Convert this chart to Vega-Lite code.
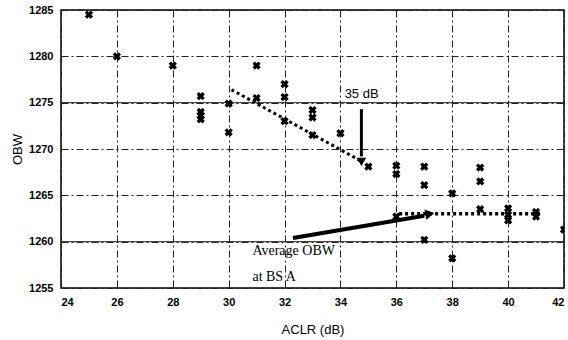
{
  "$schema": "https://vega.github.io/schema/vega-lite/v6.json",
  "autosize": "none",
  "width": 503,
  "height": 278,
  "padding": {"left": 61, "top": 10, "right": 4, "bottom": 52},
  "background": "white",
  "config": {
    "view": {"stroke": "black", "strokeWidth": 1.5},
    "axis": {
      "labelFont": "Liberation Sans",
      "labelFontSize": 11,
      "labelFontWeight": "bold",
      "labelColor": "black",
      "titleFont": "Liberation Sans",
      "titleFontSize": 13,
      "titleFontWeight": "normal",
      "titleColor": "black",
      "domain": false,
      "ticks": false,
      "grid": true,
      "gridColor": "#222",
      "gridDash": [7, 3, 2, 3],
      "gridWidth": 1,
      "gridOpacity": 1
    }
  },
  "datasets": {
    "pts": [
      {"aclr": 25, "obw": 1284.5},
      {"aclr": 26, "obw": 1280},
      {"aclr": 28, "obw": 1279},
      {"aclr": 29, "obw": 1275.7},
      {"aclr": 29, "obw": 1274},
      {"aclr": 29, "obw": 1273.6},
      {"aclr": 29, "obw": 1273.2},
      {"aclr": 30, "obw": 1274.9},
      {"aclr": 30, "obw": 1271.8},
      {"aclr": 31, "obw": 1279},
      {"aclr": 31, "obw": 1275.5},
      {"aclr": 32, "obw": 1277},
      {"aclr": 32, "obw": 1275.6},
      {"aclr": 32, "obw": 1273},
      {"aclr": 33, "obw": 1274.2},
      {"aclr": 33, "obw": 1273.4},
      {"aclr": 33, "obw": 1271.5},
      {"aclr": 34, "obw": 1271.7},
      {"aclr": 35, "obw": 1268.1},
      {"aclr": 36, "obw": 1268.2},
      {"aclr": 36, "obw": 1267.3},
      {"aclr": 36, "obw": 1262.7},
      {"aclr": 37, "obw": 1268.1},
      {"aclr": 37, "obw": 1266.1},
      {"aclr": 37, "obw": 1260.2},
      {"aclr": 38, "obw": 1265.2},
      {"aclr": 38, "obw": 1258.2},
      {"aclr": 39, "obw": 1268},
      {"aclr": 39, "obw": 1266.5},
      {"aclr": 39, "obw": 1263.5},
      {"aclr": 40, "obw": 1263.6},
      {"aclr": 40, "obw": 1262.9},
      {"aclr": 40, "obw": 1262.3},
      {"aclr": 41, "obw": 1263.2},
      {"aclr": 41, "obw": 1262.7},
      {"aclr": 42, "obw": 1261.3}
    ],
    "solidGrid": [
      {"obw": 1275},
      {"obw": 1260}
    ],
    "dotA": [
      {"aclr": 30.1, "obw": 1276.4},
      {"aclr": 34.8, "obw": 1268.6}
    ],
    "dotB": [
      {"aclr": 36.1, "obw": 1263.0},
      {"aclr": 41.2, "obw": 1263.0}
    ],
    "arrowV": [
      {"aclr": 34.75, "obw": 1274.3},
      {"aclr": 34.75, "obw": 1269.2}
    ],
    "arrowS": [
      {"aclr": 32.3, "obw": 1260.4},
      {"aclr": 37.0, "obw": 1262.8}
    ],
    "headV": [{"aclr": 34.75, "obw": 1268.6}],
    "headS": [{"aclr": 37.2, "obw": 1263.0}],
    "labels35": [{"aclr": 34.15, "obw": 1275.9, "txt": "35 dB"}],
    "labelsAvg": [
      {"aclr": 30.85, "obw": 1259.0, "txt": "Average OBW"},
      {"aclr": 30.85, "obw": 1256.2, "txt": "at BS A"}
    ]
  },
  "layer": [
    {
      "data": {"name": "solidGrid"},
      "mark": {"type": "rule", "color": "#222", "strokeWidth": 1},
      "encoding": {
        "y": {"field": "obw", "type": "quantitative", "scale": {"domain": [1255, 1285]}}
      }
    },
    {
      "data": {"name": "pts"},
      "mark": {"type": "point", "shape": "cross", "angle": 45, "filled": true, "color": "black", "size": 70, "opacity": 1, "clip": true},
      "encoding": {
        "x": {"field": "aclr", "type": "quantitative", "scale": {"domain": [24, 42], "nice": false},
              "axis": {"title": "ACLR (dB)", "values": [24, 26, 28, 30, 32, 34, 36, 38, 40, 42], "labelPadding": 8, "titlePadding": 16}},
        "y": {"field": "obw", "type": "quantitative", "scale": {"domain": [1255, 1285], "nice": false, "zero": false},
              "axis": {"title": "OBW", "format": "d", "values": [1255, 1260, 1265, 1270, 1275, 1280, 1285], "labelPadding": 8, "titlePadding": 4}}
      }
    },
    {
      "data": {"name": "dotA"},
      "mark": {"type": "line", "color": "black", "strokeWidth": 3, "strokeDash": [3, 3]},
      "encoding": {
        "x": {"field": "aclr", "type": "quantitative"},
        "y": {"field": "obw", "type": "quantitative"}
      }
    },
    {
      "data": {"name": "dotB"},
      "mark": {"type": "line", "color": "black", "strokeWidth": 3.5, "strokeDash": [3, 3]},
      "encoding": {
        "x": {"field": "aclr", "type": "quantitative"},
        "y": {"field": "obw", "type": "quantitative"}
      }
    },
    {
      "data": {"name": "arrowV"},
      "mark": {"type": "line", "color": "black", "strokeWidth": 3},
      "encoding": {
        "x": {"field": "aclr", "type": "quantitative"},
        "y": {"field": "obw", "type": "quantitative"}
      }
    },
    {
      "data": {"name": "arrowS"},
      "mark": {"type": "line", "color": "black", "strokeWidth": 4},
      "encoding": {
        "x": {"field": "aclr", "type": "quantitative"},
        "y": {"field": "obw", "type": "quantitative"}
      }
    },
    {
      "data": {"name": "headV"},
      "mark": {"type": "point", "shape": "triangle-down", "filled": true, "color": "black", "size": 90, "opacity": 1},
      "encoding": {
        "x": {"field": "aclr", "type": "quantitative"},
        "y": {"field": "obw", "type": "quantitative"}
      }
    },
    {
      "data": {"name": "headS"},
      "mark": {"type": "point", "shape": "triangle-right", "angle": -10, "filled": true, "color": "black", "size": 110, "opacity": 1},
      "encoding": {
        "x": {"field": "aclr", "type": "quantitative"},
        "y": {"field": "obw", "type": "quantitative"}
      }
    },
    {
      "data": {"name": "labels35"},
      "mark": {"type": "text", "font": "Liberation Sans", "fontSize": 13, "align": "left", "baseline": "middle", "color": "black"},
      "encoding": {
        "x": {"field": "aclr", "type": "quantitative"},
        "y": {"field": "obw", "type": "quantitative"},
        "text": {"field": "txt"}
      }
    },
    {
      "data": {"name": "labelsAvg"},
      "mark": {"type": "text", "font": "Liberation Serif", "fontSize": 14, "align": "left", "baseline": "middle", "color": "black"},
      "encoding": {
        "x": {"field": "aclr", "type": "quantitative"},
        "y": {"field": "obw", "type": "quantitative"},
        "text": {"field": "txt"}
      }
    }
  ]
}
